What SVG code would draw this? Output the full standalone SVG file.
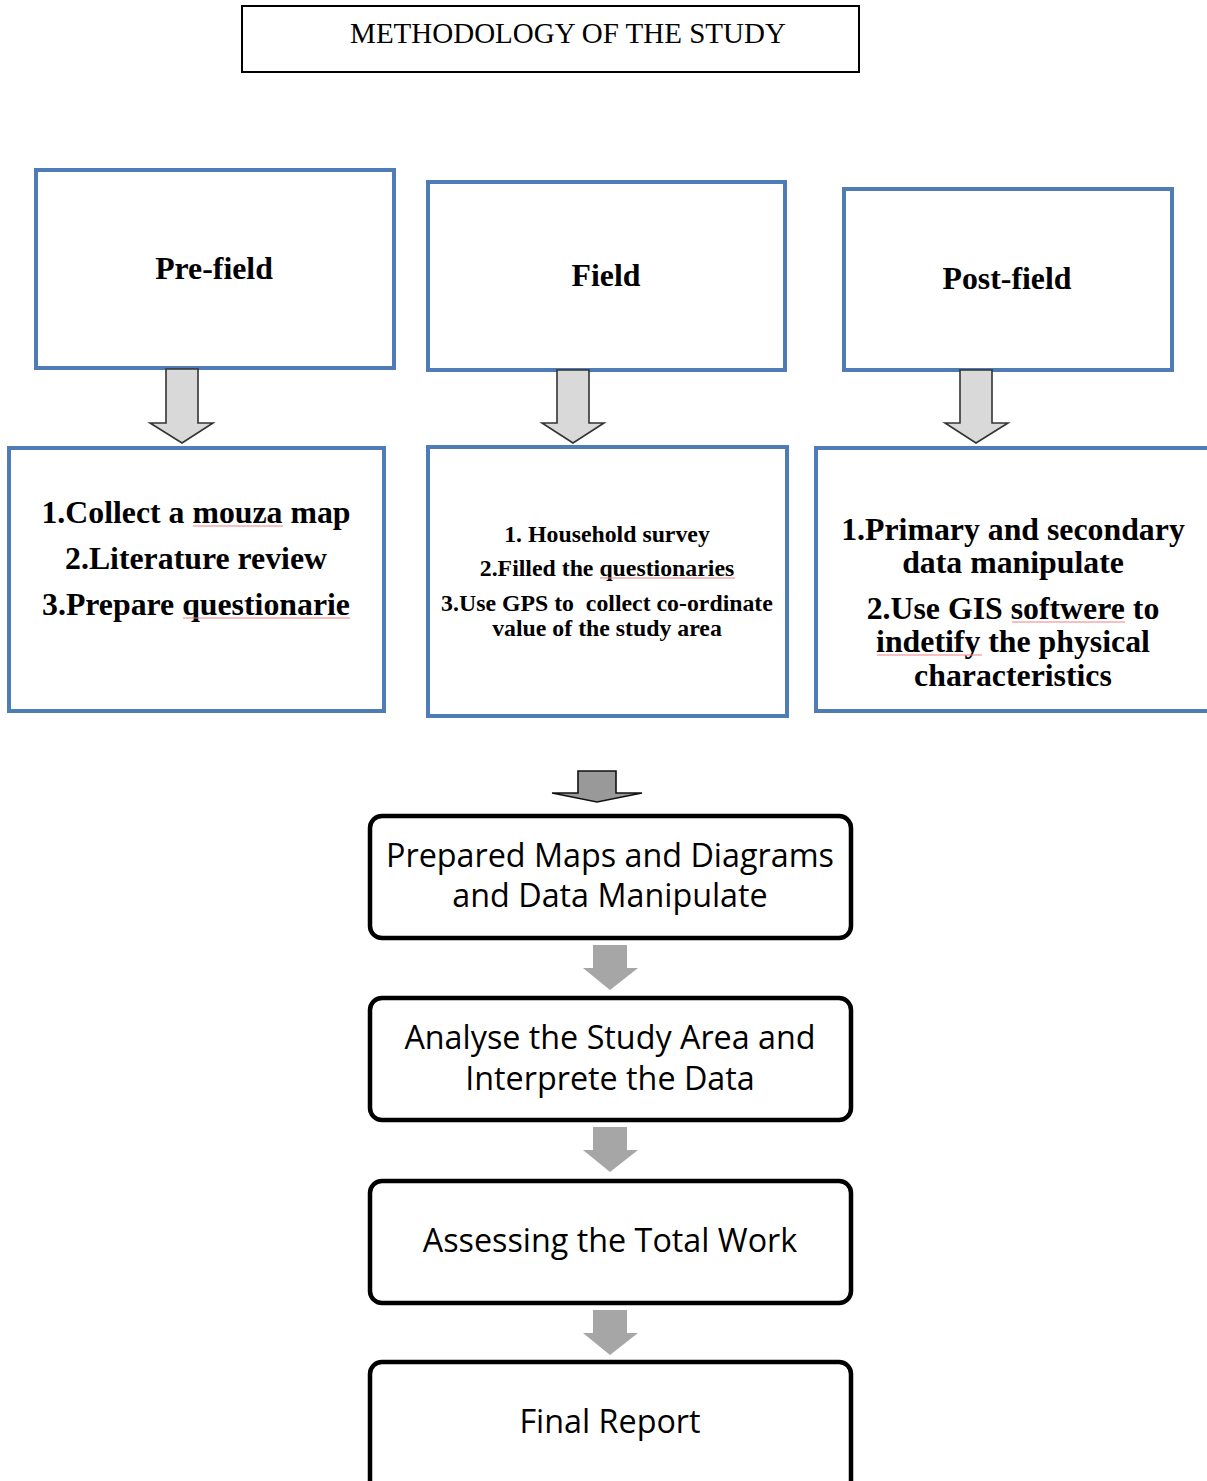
<svg xmlns="http://www.w3.org/2000/svg" width="1207" height="1481" viewBox="0 0 1207 1481">
<defs>
<style>
.title{font-family:"Liberation Serif","Times New Roman",serif;font-size:29px;fill:#000;text-anchor:middle}
.head{font-family:"Liberation Serif","Times New Roman",serif;font-size:31.8px;font-weight:bold;fill:#000;text-anchor:middle}
.big{font-family:"Liberation Serif","Times New Roman",serif;font-size:31.8px;font-weight:bold;fill:#000;text-anchor:middle}
.small{font-family:"Liberation Serif","Times New Roman",serif;font-size:23.8px;font-weight:bold;fill:#000;text-anchor:middle}
.cal{font-family:"Open Sans","Noto Sans",sans-serif;font-size:32.3px;fill:#000;text-anchor:middle}
.blue{fill:#fff;stroke:#4f7bb7;stroke-width:4}
.rbox{fill:#fff;stroke:#000;stroke-width:4.5}
.arrL{fill:#d9d9d9;stroke:#333;stroke-width:1.6}
.arrD{fill:#999;stroke:#111;stroke-width:1.6}
.arrG{fill:#a6a6a6}
.sp{stroke:#f08080;stroke-width:1.2;fill:none}
</style>
</defs>
<rect width="1207" height="1481" fill="#fff"/>

<g id="title">
<rect x="242" y="6" width="617" height="66" fill="#fff" stroke="#000" stroke-width="2"/>
<text class="title" x="568" y="43">METHODOLOGY OF THE STUDY</text>
</g>

<g id="prefield">
<rect class="blue" x="36" y="170" width="358" height="198"/>
<text class="head" x="214" y="279">Pre-field</text>
</g>
<g id="field">
<rect class="blue" x="428" y="182" width="357" height="188"/>
<text class="head" x="606" y="286">Field</text>
</g>
<g id="postfield">
<rect class="blue" x="844" y="189" width="328" height="181"/>
<text class="head" x="1007" y="289">Post-field</text>
</g>

<g id="prefield-tasks">
<rect class="blue" x="9" y="448" width="375" height="263"/>
<text class="big" x="196" y="523">1.Collect a mouza map</text>
<text class="big" x="196" y="569">2.Literature review</text>
<text class="big" x="196" y="615">3.Prepare questionarie</text>
<path class="sp" d="M193 526 L283 526"/>
<path class="sp" d="M183 618 L350 618"/>
</g>
<g id="field-tasks">
<rect class="blue" x="428" y="447" width="359" height="269"/>
<text class="small" x="607" y="542">1. Household survey</text>
<text class="small" x="607" y="576">2.Filled the questionaries</text>
<text class="small" x="607" y="611" xml:space="preserve">3.Use GPS to  collect co-ordinate</text>
<text class="small" x="607" y="636">value of the study area</text>
<path class="sp" d="M600 578 L735 578"/>
</g>
<g id="postfield-tasks">
<rect class="blue" x="816" y="448" width="400" height="263"/>
<text class="big" x="1013" y="540">1.Primary and secondary</text>
<text class="big" x="1013" y="573">data manipulate</text>
<text class="big" x="1013" y="619">2.Use GIS softwere to</text>
<text class="big" x="1013" y="652">indetify the physical</text>
<text class="big" x="1013" y="686">characteristics</text>
<path class="sp" d="M1012 622 L1125 622"/>
<path class="sp" d="M877 655 L982 655"/>
</g>

<g id="maps">
<rect class="rbox" x="370" y="816" width="481" height="122" rx="12"/>
<text class="cal" x="610" y="867">Prepared Maps and Diagrams</text>
<text class="cal" x="610" y="907">and Data Manipulate</text>
</g>
<g id="analyse">
<rect class="rbox" x="370" y="998" width="481" height="122" rx="12"/>
<text class="cal" x="610" y="1049">Analyse the Study Area and</text>
<text class="cal" x="610" y="1090">Interprete the Data</text>
</g>
<g id="assess">
<rect class="rbox" x="370" y="1181" width="481" height="122" rx="12"/>
<text class="cal" x="610" y="1252">Assessing the Total Work</text>
</g>
<g id="report">
<rect class="rbox" x="370" y="1362" width="481" height="130" rx="12"/>
<text class="cal" x="610" y="1433">Final Report</text>
</g>

<g id="connectors">
<path class="arrL" d="M166 369 L198 369 L198 423 L213 423 L182 443 L150 423 L166 423 Z"/>
<path class="arrL" d="M557 370 L589 370 L589 423 L604 423 L573 443 L542 423 L557 423 Z"/>
<path class="arrL" d="M960 370 L992 370 L992 423 L1008 423 L976 443 L945 423 L960 423 Z"/>
<path class="arrD" d="M578 771 L616 771 L616 793 L642 793 L597 802 L552 793 L578 793 Z"/>
<path class="arrG" d="M593 945 L627 945 L627 968 L638 968 L610 990 L583 968 L593 968 Z"/>
<path class="arrG" d="M593 1127 L627 1127 L627 1150 L638 1150 L610 1172 L583 1150 L593 1150 Z"/>
<path class="arrG" d="M593 1310 L627 1310 L627 1333 L638 1333 L610 1355 L583 1333 L593 1333 Z"/>
</g>
</svg>
